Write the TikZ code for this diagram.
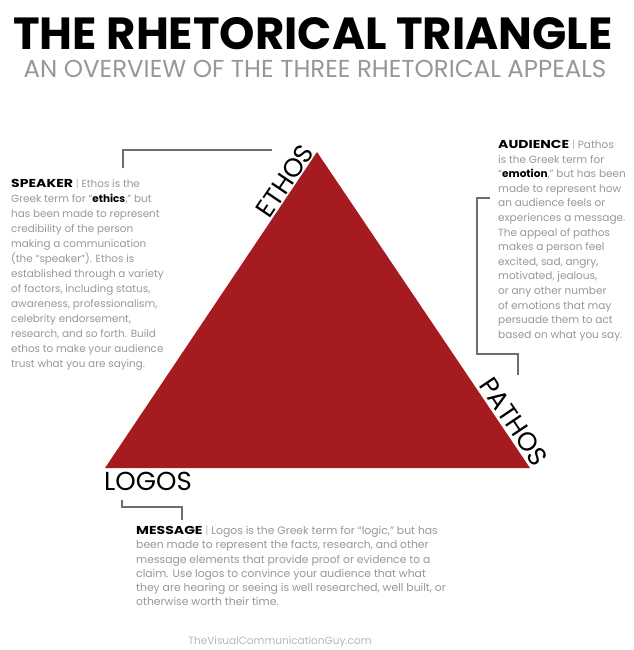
\documentclass[tikz,border=0pt]{standalone}
\usepackage{fontspec}
\setmainfont{Poppins}
\usepackage{xcolor}
\usepackage{graphicx}
\usetikzlibrary{positioning, calc}

\definecolor{rhetred}{HTML}{A51B1F}
\definecolor{bodygray}{HTML}{979797}
\definecolor{linegray}{HTML}{6E6E6E}
\newcommand{\keyword}[1]{\textcolor{black}{\textbf{#1}}}
\newcommand{\heading}[1]{\textcolor{black}{\scalebox{1.22}[1]{\fontsize{11.5}{11.5}\selectfont\bfseries #1}}}
\newcommand{\barsep}{\textcolor{bodygray!60}{|}}

\begin{document}
\begin{tikzpicture}[x=1pt, y=-1pt]
\tikzstyle{blurb} = [anchor=north west, inner sep=0pt, align=left, text=bodygray]
\tikzstyle{corner} = [anchor=south, inner sep=1pt, font=\fontsize{26}{26}\selectfont]
\tikzstyle{bracket} = [draw=linegray, line width=1.1pt]

\useasboundingbox (0,0) rectangle (633,650);

% heading
\node (title) [anchor=base, font=\bfseries\fontsize{45}{45}\selectfont] at (313,50) {THE RHETORICAL TRIANGLE};
\node (subtitle) [anchor=base, text=bodygray, font=\fontsize{24.5}{24.5}\selectfont] at (315,78) {AN OVERVIEW OF THE THREE RHETORICAL APPEALS};

% triangle
\coordinate (apex) at (317,152);
\coordinate (left) at (105,468);
\coordinate (right) at (530,468);
\fill [rhetred] (apex) -- (right) -- (left) -- cycle;

\node (ethos) [corner, rotate=56] at ($(left)!0.89!(apex)$) {ETHOS};
\node (pathos) [corner, rotate=-56, inner sep=3pt] at ($(apex)!0.875!(right)$) {PATHOS};
\node (logos) [anchor=north west, inner sep=0pt, font=\fontsize{26}{26}\selectfont] at (104,472) {LOGOS};

% the three appeals
\node (speaker) [blurb, font=\fontsize{10.4}{15}\selectfont] at (11,179) {\heading{SPEAKER} \barsep{} Ethos is the\\
Greek term for “\keyword{ethics},” but\\
has been made to represent\\
credibility of the person\\
making a communication\\
(the “speaker”). Ethos is\\
established through a variety\\
of factors, including status,\\
awareness, professionalism,\\
celebrity endorsement,\\
research, and so forth. Build\\
ethos to make your audience\\
trust what you are saying.};

\node (audience) [blurb, font=\fontsize{10.5}{14.6}\selectfont] at (498,140) {\heading{AUDIENCE} \barsep{} Pathos\\
is the Greek term for\\
“\keyword{emotion},” but has been\\
made to represent how\\
an audience feels or\\
experiences a message.\\
The appeal of pathos\\
makes a person feel\\
excited, sad, angry,\\
motivated, jealous,\\
or any other number\\
of emotions that may\\
persuade them to act\\
based on what you say.};

\node (message) [blurb, font=\fontsize{10.8}{14.2}\selectfont] at (136,526) {\heading{MESSAGE} \barsep{} Logos is the Greek term for “logic,” but has\\
been made to represent the facts, research, and other\\
message elements that provide proof or evidence to a\\
claim. Use logos to convince your audience that what\\
they are hearing or seeing is well researched, well built, or\\
otherwise worth their time.};

\node (footer) [anchor=base, text=bodygray!70, font=\fontsize{10.5}{10.5}\selectfont] at (280,644) {TheVisualCommunicationGuy.com};

% brackets
\coordinate (sp1) at (123,168);
\coordinate (sp2) at (272,150);
\coordinate (au1) at (490,198);
\coordinate (au2) at (518,375);
\coordinate (au3) at (477,354);
\coordinate (me1) at (122,500);
\coordinate (me2) at (182,520);
\coordinate (me3) at (122,507);

\draw [bracket] (sp1) |- (sp2);
\draw [bracket] (au1) -| (au3) -| (au2);
\draw [bracket] (me1) |- (me2 |- me3) -- (me2);

\end{tikzpicture}
\end{document}
